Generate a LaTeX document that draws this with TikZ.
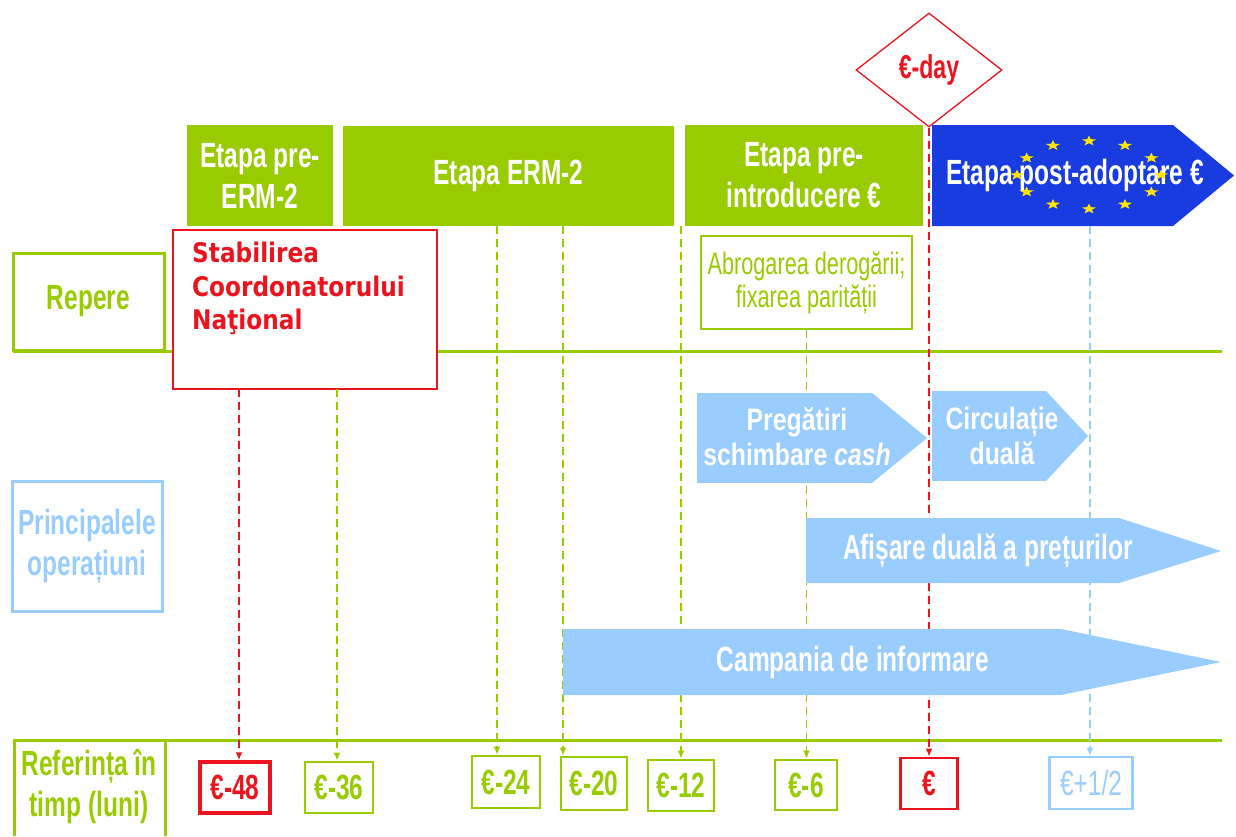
\documentclass[tikz,border=0pt]{standalone}
\usepackage{fontspec}
\usetikzlibrary{shapes.geometric,arrows.meta,calc}
\newfontfamily\nf[FakeStretch=0.70]{Liberation Sans}
\newfontfamily\nfw[FakeStretch=0.80]{Liberation Sans}
\newfontfamily\vf[FakeStretch=0.86]{DejaVu Sans}
\definecolor{eugreen}{RGB}{153,204,0}
\definecolor{eulblue}{RGB}{153,204,255}
\definecolor{eublue}{RGB}{25,60,225}
\definecolor{eured}{RGB}{235,20,30}
\definecolor{euyellow}{RGB}{255,230,0}
\begin{document}
\begin{tikzpicture}[x=1pt,y=-1pt,
  bigfont/.style={font=\nf\bfseries\fontsize{35}{41}\selectfont},
  hdr/.style={bigfont, fill=eugreen, text=white, align=center, inner sep=0pt},
  lab/.style={bigfont, line width=3pt, align=center, inner sep=0pt},
  bbox/.style={draw=eugreen, line width=2.8pt, fill=white, text=eugreen, inner sep=0pt,
     font=\nf\bfseries\fontsize{35}{36}\selectfont},
  optext/.style={bigfont, text=white, align=center, inner sep=0pt},
  opsmall/.style={font=\nfw\bfseries\fontsize{31}{35}\selectfont, text=white, align=center, inner sep=0pt},
  dashbase/.style={line width=1.5pt, dash pattern=on 8pt off 5pt, -{Latex[length=8pt,width=7pt]}},
  gdash/.style={dashbase, draw=eugreen, fill=eugreen},
  rdash/.style={dashbase, draw=eured, fill=eured},
  bdash/.style={dashbase, draw=eulblue, fill=eulblue},
  oparrow/.style={fill=eulblue},
  eustar/.style={fill=euyellow}
]
\useasboundingbox (0,0) rectangle (1236,836);

% horizontal rules
\coordinate (hr1) at (1222,351);
\coordinate (hr2) at (1222,740);
\draw[eugreen, line width=3pt] (13,351) -- (hr1);
\draw[eugreen, line width=3pt] (14,836) -- (14,740) -- (hr2);
\draw[eugreen, line width=3pt] (165,740) -- (165,836);

% left labels
\node[lab, draw=eugreen, text=eugreen, minimum width=151pt, minimum height=97pt] (rep) at (88.5,301.5) {Repere};
\node[lab, draw=eulblue, text=eulblue, minimum width=150pt, minimum height=130pt] (ops) at (87,546) {Principalele\\operațiuni};
\node[bigfont, text=eugreen, align=center, inner sep=0pt] (ref) at (89,787) {Referința în\\timp (luni)};

% header stages
\node[hdr, minimum width=146pt, minimum height=101pt] (h1) at (260,175.5) {Etapa pre-\\ERM-2};
\node[hdr, minimum width=331pt, minimum height=100pt] (h2) at (508.5,176) {Etapa ERM-2};
\node[hdr, minimum width=238pt, minimum height=101pt] (h3) at (804,175.5) {Etapa pre-\\introducere €};
\fill[eublue] (932,125) -- (1173,125) -- (1234,175.5) -- (1173,226) -- (932,226) -- cycle;
\node[optext] (h4) at (1075,175.5) {Etapa post-adoptare €};
\foreach \a in {0,30,...,330}{
  \begin{scope}[shift={($(1089,175)+(\a:72 and 34)$)}, xscale=1.4]
    \fill[eustar] (270:5.4) -- (306:2.2) -- (342:5.4) -- (18:2.2) -- (54:5.4) -- (90:2.2)
      -- (126:5.4) -- (162:2.2) -- (198:5.4) -- (234:2.2) -- cycle;
  \end{scope}
}

% e-day
\node[diamond, draw=eured, line width=1.3pt, fill=white, minimum width=146pt, minimum height=114pt,
  inner sep=0pt, text=eured, font=\nf\bfseries\fontsize{33}{36}\selectfont] (eday) at (929,70) {€-day};

% milestones
\node[draw=eured, line width=2pt, fill=white, minimum width=264pt, minimum height=159pt, inner sep=0pt] (nc) at (305,309.5) {};
\node[anchor=north west, text=eured, align=left, inner sep=0pt,
  font=\vf\bfseries\fontsize{27}{33.5}\selectfont] (nct) at (192,242) {Stabilirea\\Coordonatorului\\Naţional};
\node[draw=eugreen, line width=1.5pt, fill=white, minimum width=211pt, minimum height=93pt, inner sep=0pt,
  text=eugreen, align=center, font=\nf\fontsize{31}{33}\selectfont] (abr) at (806.5,282.5) {Abrogarea derogării;\\fixarea parității};

% bottom time references
\node[bbox, draw=eured, text=eured, line width=3.5pt, minimum width=70pt, minimum height=51pt] (b48) at (235,787.5) {€-48};
\node[bbox, minimum width=68pt, minimum height=51pt] (b36) at (339,787.5) {€-36};
\node[bbox, minimum width=68pt, minimum height=52pt] (b24) at (506,782) {€-24};
\node[bbox, minimum width=66pt, minimum height=53pt] (b20) at (594,783.5) {€-20};
\node[bbox, minimum width=66pt, minimum height=51pt] (b12) at (681,785.5) {€-12};
\node[bbox, minimum width=62pt, minimum height=50pt] (b6) at (806,785) {€-6};
\node[bbox, draw=eured, text=eured, minimum width=57pt, minimum height=51pt] (b0) at (929,783.5) {€};
\node[bbox, draw=eulblue, text=eulblue, line width=2.4pt, minimum width=83pt, minimum height=52pt,
  font=\nf\fontsize{35}{36}\selectfont] (bp) at (1091,783) {€+1/2};

% dashed reference lines
\coordinate (t48) at (239,389);
\coordinate (t36) at (337,389);
\coordinate (t24) at (497,226);
\coordinate (t20) at (563,226);
\coordinate (t12) at (681,226);
\coordinate (tp) at (1090,226);
\draw[rdash] (t48) -- (t48 |- b48.north);
\draw[gdash] (t36) -- (t36 |- b36.north);
\draw[gdash] (t24) -- (t24 |- b24.north);
\draw[gdash] (t20) -- (t20 |- b20.north);
\draw[gdash] (t12) -- (t12 |- b12.north);
\draw[gdash] (abr.south) -- (abr.south |- b6.north);
\draw[rdash] (eday.south) -- (eday.south |- b0.north);
\draw[bdash] (tp) -- (tp |- bp.north);

% operations arrows
\fill[oparrow] (697,393) -- (872,393) -- (927,438) -- (872,483) -- (697,483) -- cycle;
\node[opsmall] (preg) at (797,437) {Pregătiri\\schimbare \textit{cash}};
\fill[oparrow] (932,391) -- (1046,391) -- (1088,436) -- (1046,481) -- (932,481) -- cycle;
\node[opsmall] (circ) at (1002,436) {Circulație\\duală};
\fill[oparrow] (806,518) -- (1119,518) -- (1221,551) -- (1119,583) -- (806,583) -- cycle;
\node[optext] (afis) at (988,551) {Afișare duală a prețurilor};
\fill[oparrow] (563,629) -- (1061,629) -- (1221,662) -- (1061,695) -- (563,695) -- cycle;
\node[optext] (camp) at (853,662) {Campania de informare};
\end{tikzpicture}
\end{document}
